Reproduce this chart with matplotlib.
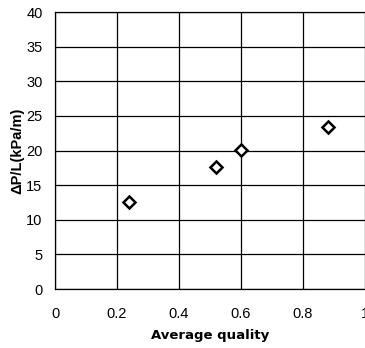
import matplotlib.pyplot as plt
import numpy as np

# data
quality = [0.24, 0.52, 0.60, 0.88]
dp_per_l = [12.6, 17.6, 20.1, 23.4]

x_ticks = [0, 0.2, 0.4, 0.6, 0.8, 1]
x_tick_labels = ["0", "0.2", "0.4", "0.6", "0.8", "1"]
y_ticks = [0, 5, 10, 15, 20, 25, 30, 35, 40]

plt.rcParams['font.family'] = ['Liberation Sans', 'DejaVu Sans']

fig = plt.figure(figsize=(3.65, 3.48), dpi=100)
ax = fig.add_axes([0.1507, 0.1695, 0.8493, 0.796])

ax.plot(quality, dp_per_l, linestyle='none', marker='D', markersize=6.5,
        markerfacecolor='white', markeredgecolor='black', markeredgewidth=1.8,
        zorder=3)

ax.set_xlim(0, 1)
ax.set_ylim(0, 40)
ax.set_xticks(x_ticks)
ax.set_xticklabels(x_tick_labels)
ax.set_yticks(y_ticks)
ax.grid(True, color='black', linewidth=0.9)
ax.tick_params(length=0, labelsize=10.5)
ax.tick_params(axis='x', pad=13)
ax.tick_params(axis='y', pad=9)

for s in ax.spines.values():
    s.set_linewidth(0.9)
ax.spines['right'].set_visible(False)

ax.set_xlabel("Average quality", fontsize=9.5, fontweight='bold', labelpad=6,
              family='DejaVu Sans')
ax.set_ylabel("ΔP/L(kPa/m)", fontsize=10.5, fontweight='bold', labelpad=1.5)

fig.savefig("out.png", dpi=100)
